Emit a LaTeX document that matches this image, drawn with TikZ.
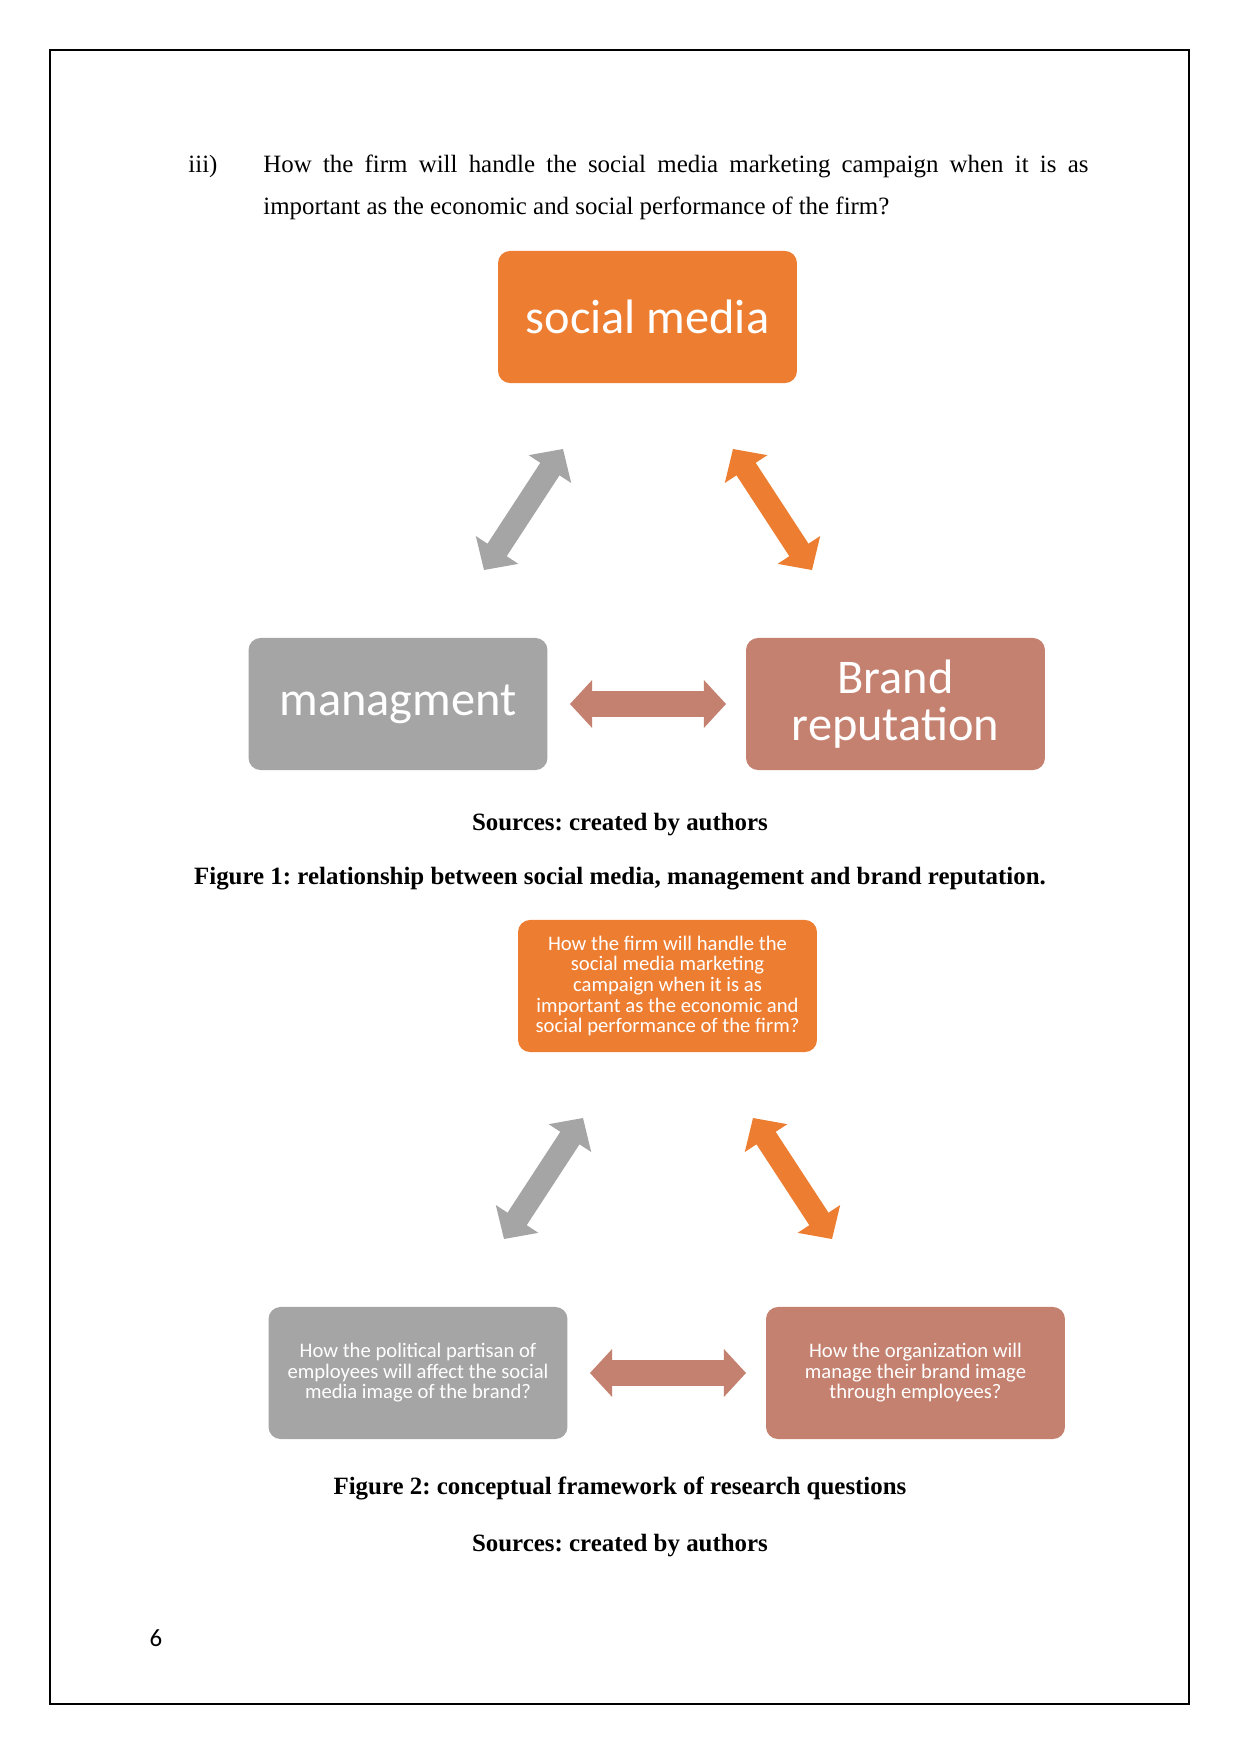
\documentclass[tikz,border=0pt]{standalone}
\usepackage{fontspec}
\setmainfont{Liberation Serif}
\newfontfamily\calfont{Carlito}
\usetikzlibrary{calc}
\frenchspacing
\definecolor{cOrange}{HTML}{ED7D31}
\definecolor{cGray}{HTML}{A5A5A5}
\definecolor{cRust}{HTML}{C58170}
\newcommand\blockarr[6]{%
  \coordinate (#1-h) at ($(#1)!#5!(#2)$);
  \coordinate (#2-h) at ($(#2)!#5!(#1)$);
  \fill[#6] (#1)
    -- ($(#1-h)!#4!90:(#2)$) -- ($(#1-h)!#3!90:(#2)$)
    -- ($(#2-h)!#3!-90:(#1)$) -- ($(#2-h)!#4!-90:(#1)$)
    -- (#2)
    -- ($(#2-h)!#4!90:(#1)$) -- ($(#2-h)!#3!90:(#1)$)
    -- ($(#1-h)!#3!-90:(#2)$) -- ($(#1-h)!#4!-90:(#2)$)
    -- cycle;}
\begin{document}
\begin{tikzpicture}[x=0.48bp,y=-0.48bp,
  box/.style={rounded corners=5.8bp, minimum width=143.5bp, minimum height=63.4bp,
    inner sep=2bp, text=white, align=center, font=\calfont},
  bigtxt/.style={font=\calfont\fontsize{23.3}{23}\selectfont},
  smalltxt/.style={font=\calfont\fontsize{9.95}{9.9}\selectfont},
  bodytxt/.style={inner sep=0pt, anchor=base west, font=\fontsize{12}{14}\selectfont},
  captxt/.style={inner sep=0pt, anchor=base, font=\bfseries\fontsize{12}{14}\selectfont}]
\useasboundingbox (0,0) rectangle (1241,1754);
\draw[line width=1bp] (50,50) rectangle (1189,1704);

% question text
\node[bodytxt] (num) at (188,172) {iii)};
\node[bodytxt] (l1) at (263,172) {\makebox[396bp][s]{How the firm will handle the social media marketing campaign when it is as}};
\node[bodytxt] (l2) at (263,214) {important as the economic and social performance of the firm?};

% figure 1
\node[box, fill=cOrange, bigtxt] (sm) at (647.5,317) {social media};
\node[box, fill=cGray, bigtxt] (mg) at (398,704) {managment};
\node[box, fill=cRust, bigtxt] (br) at (895.5,704) {Brand\\reputation};

\coordinate (g1a) at (484,570); \coordinate (g1b) at (563,449);
\coordinate (o1a) at (733,449); \coordinate (o1b) at (812,570);
\coordinate (h1a) at (570,704); \coordinate (h1b) at (726,704);
\blockarr{g1a}{g1b}{5.5bp}{12.2bp}{11.5bp}{cGray}
\blockarr{o1a}{o1b}{5.5bp}{12.2bp}{11.5bp}{cOrange}
\blockarr{h1a}{h1b}{6.2bp}{11.5bp}{10.6bp}{cRust}

\node[captxt] (src1) at (620,830) {Sources: created by authors};
\node[captxt] (fig1) at (620,884) {Figure 1: relationship between social media, management and brand reputation.};

% figure 2
\node[box, fill=cOrange, smalltxt] (q1) at (667.5,986) {How the firm will handle the\\social media marketing\\campaign when it is as\\important as the economic and\\social performance of the firm?};
\node[box, fill=cGray, smalltxt] (q2) at (418,1373) {How the political partisan of\\employees will affect the social\\media image of the brand?};
\node[box, fill=cRust, smalltxt] (q3) at (915.5,1373) {How the organization will\\manage their brand image\\through employees?};

\coordinate (g2a) at (504,1239); \coordinate (g2b) at (583,1118);
\coordinate (o2a) at (753,1118); \coordinate (o2b) at (832,1239);
\coordinate (h2a) at (590,1373); \coordinate (h2b) at (746,1373);
\blockarr{g2a}{g2b}{5.5bp}{12.2bp}{11.5bp}{cGray}
\blockarr{o2a}{o2b}{5.5bp}{12.2bp}{11.5bp}{cOrange}
\blockarr{h2a}{h2b}{6.2bp}{11.5bp}{10.6bp}{cRust}

\node[captxt] (fig2) at (620,1494) {Figure 2: conceptual framework of research questions};
\node[captxt] (src2) at (620,1551) {Sources: created by authors};

\node[inner sep=0pt, anchor=base, font=\calfont\fontsize{12}{14}\selectfont] (pg) at (156,1646) {6};
\end{tikzpicture}
\end{document}
